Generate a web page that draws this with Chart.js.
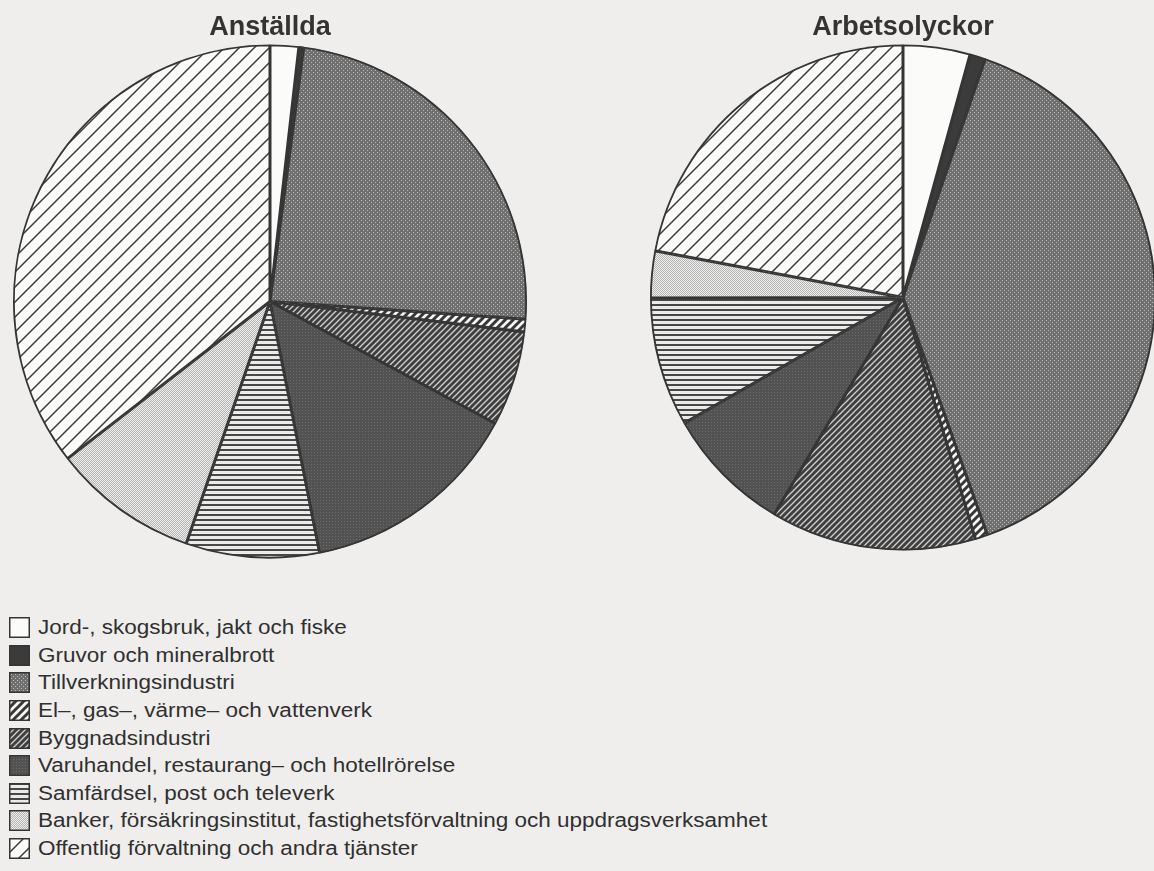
<!DOCTYPE html>
<html>
<head>
<meta charset="utf-8">
<script src="https://cdn.jsdelivr.net/npm/chart.js@4"></script>
<style>
  html, body { margin: 0; padding: 0; }
  body {
    width: 1154px; height: 871px; overflow: hidden; position: relative;
    background: #efeeec;
    font-family: "Liberation Sans", Arial, sans-serif;
  }
  canvas.pie { position: absolute; }
  #legend { position: absolute; left: 9px; top: 614px; }
  .row { display: flex; align-items: center; height: 27.6px; }
  .row canvas { width: 21px; height: 21px; margin-right: 8px; flex: none; }
  .row span {
    display: inline-block; font-size: 20px; color: #303030;
    transform: scaleX(1.125); transform-origin: left center; white-space: nowrap;
  }
</style>
</head>
<body>
<canvas id="left" class="pie" width="514" height="556" style="left:13px;top:4px"></canvas>
<canvas id="right" class="pie" width="506" height="548" style="left:650px;top:4px"></canvas>
<div id="legend"></div>

<script>
// näringsgrenar (samma ordning i båda cirklarna, medurs från kl 12)
const labels = [
  'Jord-, skogsbruk, jakt och fiske',
  'Gruvor och mineralbrott',
  'Tillverkningsindustri',
  'El–, gas–, värme– och vattenverk',
  'Byggnadsindustri',
  'Varuhandel, restaurang– och hotellrörelse',
  'Samfärdsel, post och televerk',
  'Banker, försäkringsinstitut, fastighetsförvaltning och uppdragsverksamhet',
  'Offentlig förvaltning och andra tjänster'
];

// andel i procent
const anstallda     = [1.8, 0.3, 24.0, 0.8, 6.0, 14.0, 8.4, 9.2, 35.5];
const arbetsolyckor = [4.3, 1.0, 39.4, 0.8, 13.2, 8.2, 8.3, 3.0, 22.1];

const titles = ['Anställda', 'Arbetsolyckor'];

// mönster som i trycket
function makePattern(w, h, draw) {
  const c = document.createElement('canvas');
  c.width = w; c.height = h;
  const g = c.getContext('2d');
  draw(g, w, h);
  return g.createPattern(c, 'repeat');
}

function diag(bg, fg, s, lw) {
  return makePattern(s, s, (g) => {
    g.fillStyle = bg;
    g.fillRect(0, 0, s, s);
    g.strokeStyle = fg;
    g.lineWidth = lw;
    g.beginPath();
    g.moveTo(-s / 2, s / 2); g.lineTo(s / 2, -s / 2);
    g.moveTo(0, s); g.lineTo(s, 0);
    g.moveTo(s / 2, s * 1.5); g.lineTo(s * 1.5, s / 2);
    g.stroke();
  });
}

function dots(bg, fg, s, pts) {
  return makePattern(s, s, (g) => {
    g.fillStyle = bg;
    g.fillRect(0, 0, s, s);
    g.fillStyle = fg;
    pts.forEach(p => g.fillRect(p[0], p[1], 1, 1));
  });
}

const fills = [
  '#fbfbf9',
  '#3b3b3b',
  dots('#6f6f6f', '#bcbcbc', 4, [[0, 0], [2, 2]]),
  diag('#f6f6f4', '#383838', 8, 3),
  diag('#3f3f3f', '#d2d2d2', 6, 1.3),
  dots('#525252', '#6c6c6c', 3, [[1, 1]]),
  makePattern(5, 5, (g) => {
    g.fillStyle = '#ebebe9'; g.fillRect(0, 0, 5, 5);
    g.fillStyle = '#484848'; g.fillRect(0, 0, 5, 2);
  }),
  dots('#eeeeec', '#b4b4b4', 2, [[0, 0], [1, 1]]),
  diag('#fbfbf9', '#3c3c3c', 15, 1.5)
];

function drawPie(id, title, values) {
  new Chart(document.getElementById(id), {
    type: 'pie',
    data: {
      labels: labels,
      datasets: [{
        data: values,
        backgroundColor: fills,
        borderColor: '#353535',
        borderWidth: 1.5,
        borderAlign: 'inner'
      }]
    },
    options: {
      responsive: false,
      animation: false,
      layout: { padding: 0 },
      plugins: {
        legend: { display: false },
        tooltip: { enabled: false },
        title: {
          display: true,
          text: title,
          color: '#333333',
          font: { family: '"Liberation Sans", Arial, sans-serif', size: 27, weight: 'bold', lineHeight: 1.0 },
          padding: { top: 10, bottom: 2 }
        }
      }
    }
  });
}

drawPie('left', titles[0], anstallda);
drawPie('right', titles[1], arbetsolyckor);

// teckenförklaring
const legend = document.getElementById('legend');
labels.forEach((name, i) => {
  const row = document.createElement('div');
  row.className = 'row';
  const sw = document.createElement('canvas');
  sw.width = 21; sw.height = 21;
  const g = sw.getContext('2d');
  g.fillStyle = fills[i];
  g.fillRect(0, 0, 21, 21);
  g.strokeStyle = '#353535';
  g.lineWidth = 1.5;
  g.strokeRect(0.75, 0.75, 19.5, 19.5);
  const txt = document.createElement('span');
  txt.textContent = name;
  row.appendChild(sw);
  row.appendChild(txt);
  legend.appendChild(row);
});
</script>
</body>
</html>
